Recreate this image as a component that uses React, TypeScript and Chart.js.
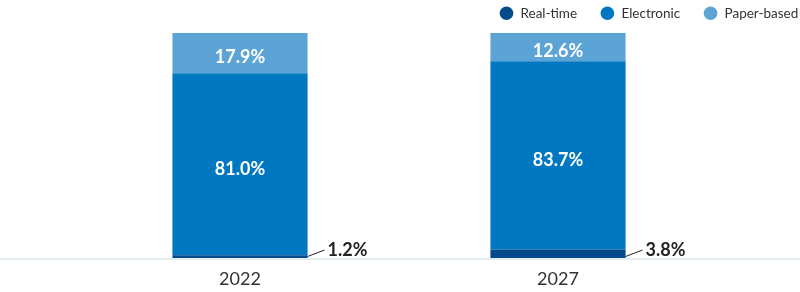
import React, { useEffect, useRef } from 'react';
import { Chart, registerables } from 'chart.js';

Chart.register(...registerables);

const categories = ['2022', '2027'];
const seriesNames = ['Real-time', 'Electronic', 'Paper-based'];
const realTime = [1.2, 3.8];
const electronic = [81.0, 83.7];
const paperBased = [17.9, 12.6];
const seriesColors = ['#034a8c', '#0077c1', '#5ca4d5'];

const FONT = 'Lato, "Noto Sans", sans-serif';

const axisLinePlugin = {
  id: 'axisLine',
  beforeDatasetsDraw(chart: any) {
    const { ctx, chartArea, width } = chart;
    ctx.save();
    ctx.strokeStyle = '#e3ecee';
    ctx.lineWidth = 2;
    ctx.beginPath();
    ctx.moveTo(0, chartArea.bottom + 1);
    ctx.lineTo(width, chartArea.bottom + 1);
    ctx.stroke();
    ctx.restore();
  },
};

const valueLabelPlugin = {
  id: 'valueLabels',
  afterDatasetsDraw(chart: any) {
    const { ctx } = chart;
    ctx.save();
    chart.data.datasets.forEach((ds: any, di: number) => {
      const meta = chart.getDatasetMeta(di);
      meta.data.forEach((bar: any, i: number) => {
        const { x, y, base, width } = bar.getProps(['x', 'y', 'base', 'width'], true);
        const text = ds.data[i].toFixed(1) + '%';
        if (di === 0) {
          const sx = x + width / 2;
          const sy = base - 1.5;
          const ex = sx + 17;
          const ey = sy - 6.5;
          ctx.strokeStyle = '#222222';
          ctx.lineWidth = 1;
          ctx.beginPath();
          ctx.moveTo(sx, sy);
          ctx.lineTo(ex, ey);
          ctx.stroke();
          ctx.fillStyle = '#222222';
          ctx.font = `bold 18px ${FONT}`;
          ctx.textAlign = 'left';
          ctx.textBaseline = 'middle';
          ctx.fillText(text, ex + 3, ey);
        } else {
          ctx.fillStyle = '#ffffff';
          ctx.font = `bold 18px ${FONT}`;
          ctx.textAlign = 'center';
          ctx.textBaseline = 'middle';
          ctx.fillText(text, x, (y + base) / 2 + 4.5);
        }
      });
    });
    ctx.restore();
  },
};

const legendPlugin = {
  id: 'customLegend',
  afterDraw(chart: any) {
    const { ctx } = chart;
    ctx.save();
    ctx.font = `13.5px ${FONT}`;
    ctx.textBaseline = 'middle';
    ctx.textAlign = 'left';
    const cy = 13.3;
    let right = 798.3;
    const items = chart.data.datasets.map((d: any) => ({ label: d.label, color: d.backgroundColor }));
    for (let k = items.length - 1; k >= 0; k--) {
      const it = items[k];
      const w = ctx.measureText(it.label).width;
      const tx = right - w;
      const cx = tx - 14;
      ctx.fillStyle = it.color;
      ctx.beginPath();
      ctx.arc(cx, cy, 6.8, 0, Math.PI * 2);
      ctx.fill();
      ctx.fillStyle = '#333333';
      ctx.fillText(it.label, tx, cy);
      right = cx - 30.3;
    }
    ctx.restore();
  },
};

export default function App() {
  const ref = useRef<HTMLCanvasElement | null>(null);
  useEffect(() => {
    document.body.style.margin = '0';
    if (!ref.current) return;
    const seriesValues = [realTime, electronic, paperBased];
    const chart = new Chart(ref.current, {
      type: 'bar',
      data: {
        labels: categories,
        datasets: seriesNames.map((name, i) => ({
          label: name,
          data: seriesValues[i],
          backgroundColor: seriesColors[i],
          borderWidth: 0,
          barPercentage: 0.85,
          categoryPercentage: 0.5,
        })),
      },
      options: {
        animation: false,
        responsive: false,
        maintainAspectRatio: false,
        layout: { padding: { top: 33, left: 81, right: 83, bottom: 0 } },
        plugins: {
          legend: { display: false },
          tooltip: { enabled: false },
        },
        scales: {
          x: {
            stacked: true,
            grid: { display: false, drawTicks: false },
            border: { display: false },
            ticks: {
              color: '#333333',
              font: { family: FONT, size: 18 },
              padding: 10,
            },
            afterFit: (s: any) => {
              s.height = 34;
            },
          },
          y: {
            stacked: true,
            display: false,
            min: 0,
            max: 100.1,
          },
        },
      },
      plugins: [axisLinePlugin, valueLabelPlugin, legendPlugin],
    });
    return () => chart.destroy();
  }, []);
  return (
    <div style={{ width: 800, height: 292 }}>
      <canvas ref={ref} width={800} height={292} style={{ display: 'block' }} />
    </div>
  );
}
